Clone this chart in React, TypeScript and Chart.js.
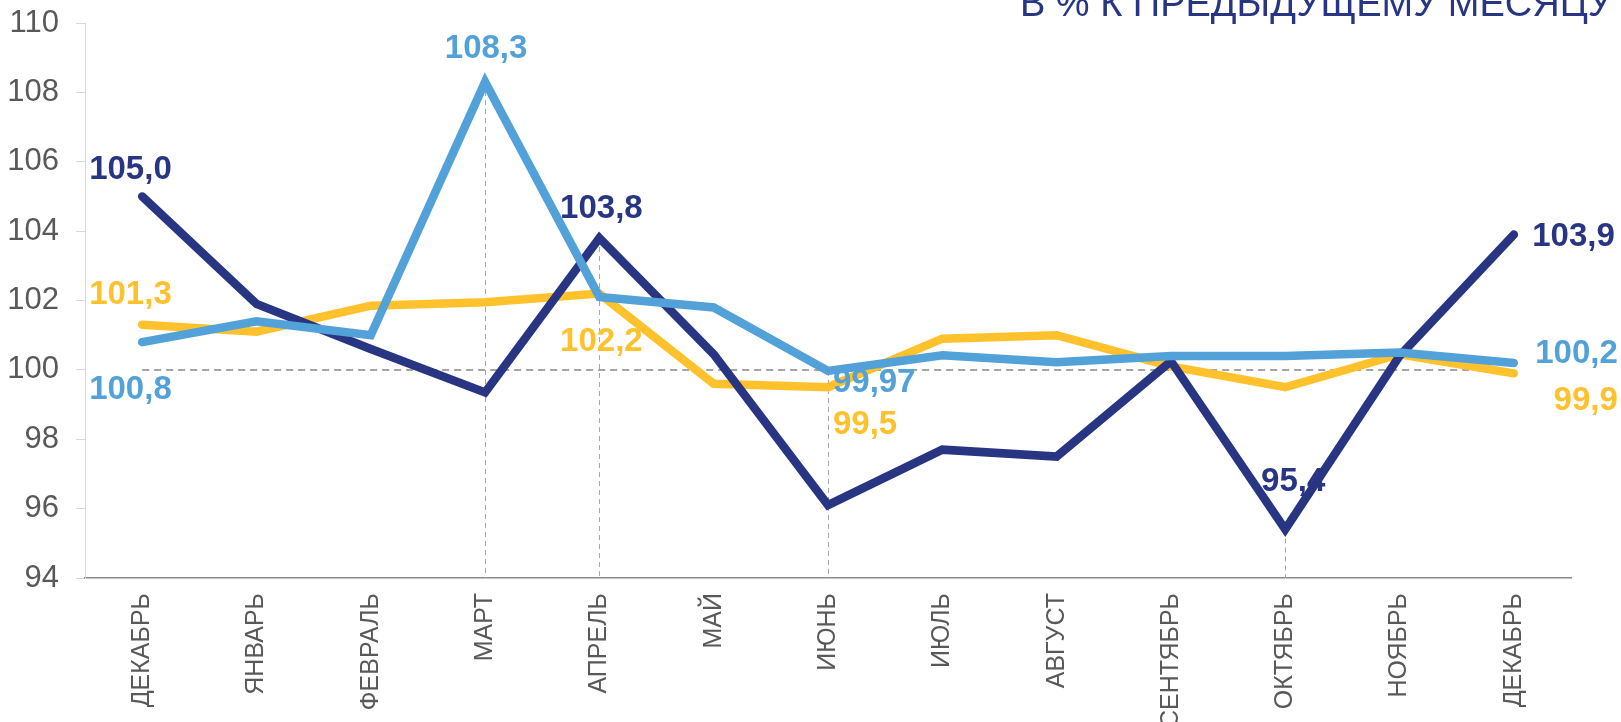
import React, { useEffect, useRef } from 'react';
import { Chart, registerables } from 'chart.js';

Chart.register(...registerables);

const categories = ['ДЕКАБРЬ', 'ЯНВАРЬ', 'ФЕВРАЛЬ', 'МАРТ', 'АПРЕЛЬ', 'МАЙ', 'ИЮНЬ', 'ИЮЛЬ', 'АВГУСТ', 'СЕНТЯБРЬ', 'ОКТЯБРЬ', 'НОЯБРЬ', 'ДЕКАБРЬ'];
const navySeries = [105.0, 101.9, 100.6, 99.35, 103.8, 100.45, 96.1, 97.7, 97.5, 100.25, 95.4, 100.4, 103.9];
const blueSeries = [100.8, 101.4, 101.0, 108.3, 102.1, 101.8, 99.97, 100.42, 100.22, 100.4, 100.4, 100.5, 100.2];
const yellowSeries = [101.3, 101.1, 101.85, 101.95, 102.2, 99.6, 99.5, 100.9, 101.0, 100.1, 99.5, 100.45, 99.9];
const referenceLevel = 100;
const yTicks = [94, 96, 98, 100, 102, 104, 106, 108, 110];
const titleText = 'В % К ПРЕДЫДУЩЕМУ МЕСЯЦУ';

// drop lines: category index and the dataset whose point they start from (0 navy, 1 blue, 2 yellow)
const dropLineCategories = [3, 4, 6, 10];
const dropLineSeries = [1, 0, 1, 0];

const NAVY = '#283583';
const BLUE = '#53A1D9';
const YELLOW = '#FFC22D';
const FONT = '"Liberation Sans", Arial, sans-serif';

// value labels: dataset, category, decimals, alignment and offset from the point
const labelDataset = [0, 2, 1, 1, 0, 2, 1, 2, 0, 0, 1, 2];
const labelCategory = [0, 0, 0, 3, 4, 4, 6, 6, 10, 12, 12, 12];
const labelDecimals = [1, 1, 1, 1, 1, 1, 2, 1, 1, 1, 1, 1];
const labelAlign: CanvasTextAlign[] = ['left', 'left', 'left', 'center', 'center', 'center', 'left', 'left', 'center', 'right', 'right', 'right'];
const labelDx = [-53, -53, -53, 1, 2, 2, 5, 5, 8, 101, 104, 104];
const labelDy = [-27, -30, 48, -33, -29, 48, 12, 38, -48, 2, -9, 28];

const seriesColors = [NAVY, BLUE, YELLOW];

const overlayPlugin = {
  id: 'overlay',
  beforeDatasetsDraw(chart: any) {
    const ctx = chart.ctx;
    const yScale = chart.scales.y;
    ctx.save();
    ctx.strokeStyle = '#a6a6a6';
    ctx.lineWidth = 1;
    ctx.setLineDash([5, 4]);
    dropLineCategories.forEach((ci, k) => {
      const meta = chart.getDatasetMeta(dropLineSeries[k]);
      const pt = meta.data[ci];
      ctx.beginPath();
      ctx.moveTo(Math.round(pt.x) + 0.5, pt.y);
      ctx.lineTo(Math.round(pt.x) + 0.5, yScale.bottom);
      ctx.stroke();
    });
    ctx.restore();
  },
  afterDatasetsDraw(chart: any) {
    const ctx = chart.ctx;
    ctx.save();
    ctx.font = `bold 33px ${FONT}`;
    ctx.textBaseline = 'middle';
    labelDataset.forEach((ds, k) => {
      const meta = chart.getDatasetMeta(ds);
      const pt = meta.data[labelCategory[k]];
      const values = chart.data.datasets[ds].data as number[];
      const v = values[labelCategory[k]];
      const text = v.toFixed(labelDecimals[k]).replace('.', ',');
      ctx.fillStyle = seriesColors[ds];
      ctx.textAlign = labelAlign[k];
      ctx.fillText(text, pt.x + labelDx[k], pt.y + labelDy[k]);
    });
    ctx.restore();
  },
  afterDraw(chart: any) {
    const ctx = chart.ctx;
    ctx.save();
    ctx.font = `38px ${FONT}`;
    ctx.fillStyle = NAVY;
    ctx.textAlign = 'right';
    ctx.textBaseline = 'alphabetic';
    ctx.fillText(titleText, 1612, 16);
    ctx.restore();
  },
};

export default function App() {
  const canvasRef = useRef<HTMLCanvasElement | null>(null);

  useEffect(() => {
    document.body.style.margin = '0';
    const canvas = canvasRef.current;
    if (!canvas) return;
    const lineCommon = {
      borderWidth: 8.5,
      pointRadius: 0,
      pointHoverRadius: 0,
      tension: 0,
      borderCapStyle: 'round' as const,
      borderJoinStyle: 'miter' as const,
      fill: false,
    };
    const chart = new Chart(canvas, {
      type: 'line',
      data: {
        labels: categories,
        datasets: [
          { ...lineCommon, label: 'navy', data: navySeries, borderColor: NAVY, backgroundColor: NAVY, order: 1 },
          { ...lineCommon, label: 'blue', data: blueSeries, borderColor: BLUE, backgroundColor: BLUE, order: 0 },
          { ...lineCommon, label: 'yellow', data: yellowSeries, borderColor: YELLOW, backgroundColor: YELLOW, order: 2 },
          {
            label: 'ref',
            data: categories.map(() => referenceLevel),
            borderColor: '#868686',
            borderWidth: 1.5,
            borderDash: [7, 5],
            pointRadius: 0,
            tension: 0,
            fill: false,
            order: 3,
          },
        ],
      },
      options: {
        responsive: false,
        animation: false,
        events: [],
        layout: { padding: { top: 23, right: 50, left: 0, bottom: 0 } },
        plugins: {
          legend: { display: false },
          tooltip: { enabled: false },
          title: { display: false },
        },
        scales: {
          x: {
            type: 'category',
            offset: true,
            grid: { display: false, drawTicks: false },
            border: { display: true, color: '#888888', width: 1.5 },
            ticks: {
              autoSkip: false,
              maxRotation: 90,
              minRotation: 90,
              padding: 15,
              color: '#595959',
              font: { family: FONT, size: 25 },
            },
            afterFit: (scale: any) => {
              scale.height = 144;
              scale.paddingLeft = 0;
              scale.paddingRight = 0;
            },
          },
          y: {
            min: 94,
            max: 110,
            afterBuildTicks: (scale: any) => {
              scale.ticks = yTicks.map((v) => ({ value: v }));
            },
            grid: {
              display: true,
              drawOnChartArea: false,
              drawTicks: true,
              tickLength: 9,
              color: '#d9d9d9',
            },
            border: { display: true, color: '#d9d9d9', width: 1 },
            ticks: {
              padding: 17,
              color: '#595959',
              font: { family: FONT, size: 31 },
            },
            afterFit: (scale: any) => {
              scale.width = 85;
              scale.paddingTop = 0;
              scale.paddingBottom = 0;
            },
          },
        },
      },
      plugins: [overlayPlugin],
    });
    return () => {
      chart.destroy();
    };
  }, []);

  return (
    <div style={{ width: 1621, height: 722, position: 'relative', overflow: 'hidden' }}>
      <canvas ref={canvasRef} width={1621} height={722} style={{ width: 1621, height: 722, display: 'block' }} />
    </div>
  );
}
